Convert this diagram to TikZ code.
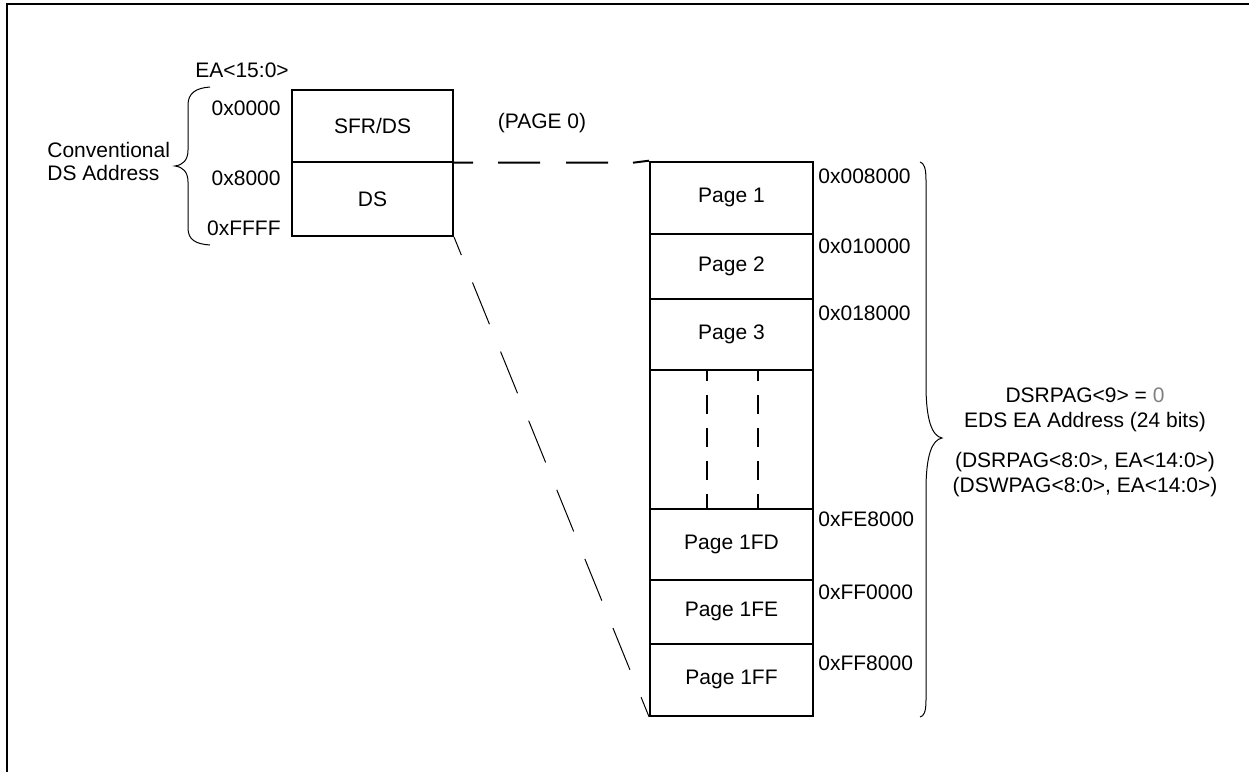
\documentclass[tikz,border=0pt]{standalone}
\usepackage{fontspec}
\setmainfont{Liberation Sans}
\begin{document}
\begin{tikzpicture}[x=0.5pt,y=-0.5pt,
  every node/.style={font=\fontsize{10.5}{12}\selectfont, inner sep=0pt},
  membox/.style={draw, line width=1pt, minimum width=#1, anchor=north west},
  lbl/.style={anchor=west},
  rlbl/.style={anchor=east},
  thinbrace/.style={line width=0.5pt},
  pageline/.style={line width=1pt},
  diagdash/.style={line width=0.5pt, dash pattern=on 22.5pt off 14.8pt, dash phase=12.75pt},
  gapdash/.style={line width=1pt, dash pattern=on 9.5pt off 7pt, dash phase=3.5pt}
]
\useasboundingbox (0,0) rectangle (1249,772);
% frame
\draw[line width=1pt] (7,772) -- (7,4) -- (1249,4);

% left boxes
\node[membox=80.5pt, minimum height=35.85pt] (sfr) at (291,89) {SFR/DS};
\node[membox=80.5pt, minimum height=37.15pt] (ds) at (291,160.7) {DS};

% right boxes
\node[membox=81.5pt, minimum height=36pt]   (p1)   at (649,160.7) {Page 1};
\node[membox=81.5pt, minimum height=32.5pt] (p2)   at (649,232.7) {Page 2};
\node[membox=81.5pt, minimum height=35.65pt] (p3)  at (649,297.7) {Page 3};
\node[membox=81.5pt, minimum height=69.35pt] (gap) at (649,369) {};
\node[membox=81.5pt, minimum height=35.65pt] (p1fd) at (649,507.7) {Page 1FD};
\node[membox=81.5pt, minimum height=31.85pt] (p1fe) at (649,579) {Page 1FE};
\node[membox=81.5pt, minimum height=36pt]   (p1ff) at (649,642.7) {Page 1FF};

% dashed columns in the gap
\draw[gapdash] (707,369) -- (707,507.7);
\draw[gapdash] (758,369) -- (758,507.7);

% connectors
\draw[pageline] (sfr.south east) -- ++(19,0) ++(25,0) -- ++(42,0) ++(26,0) -- ++(42,0) ++(25,0) -- (p1.north west);
\draw[diagdash] (ds.south east) -- (p1ff.south west);

% texts top-left
\node (ea) at (242,70) {EA<15:0>};
\node[rlbl] (a0) at (281,108) {0x0000};
\node[rlbl] (a8) at (281,178) {0x8000};
\node[rlbl] (af) at (281,228) {0xFFFF};
\node[anchor=west, align=left, font=\fontsize{10.5}{11.5}\selectfont] (conv) at (47,161.5) {Conventional\\DS Address};
\node (page0) at (542,123) {(PAGE 0)};

% left brace
\draw[thinbrace] (210,87) .. controls (196,88) and (188,93) .. (188,105) -- (188,150)
  .. controls (188,160) and (183,165) .. (175,166)
  .. controls (183,167) and (188,172) .. (188,182) -- (188,228)
  .. controls (188,240) and (196,244) .. (210,245);

% right addresses
\node[lbl] (r1) at (818,176) {0x008000};
\node[lbl] (r2) at (818,246) {0x010000};
\node[lbl] (r3) at (818,313) {0x018000};
\node[lbl] (r4) at (818,519) {0xFE8000};
\node[lbl] (r5) at (818,592) {0xFF0000};
\node[lbl] (r6) at (818,663) {0xFF8000};

% right brace
\draw[thinbrace] (920,162) .. controls (924,163) and (926,168) .. (926,180) -- (926,385)
  .. controls (926,420) and (932,436) .. (942,438)
  .. controls (932,440) and (926,455) .. (926,490) -- (926,700)
  .. controls (926,712) and (924,716) .. (920,717);

% right text block
\node (t1) at (1085,395) {DSRPAG<9> = {\color{gray}0}};
\node (t2) at (1085,422) {EDS EA Address (24 bits)};
\node (t3) at (1085,462) {(DSRPAG<8:0>, EA<14:0>)};
\node (t4) at (1085,487) {(DSWPAG<8:0>, EA<14:0>)};
\end{tikzpicture}
\end{document}
